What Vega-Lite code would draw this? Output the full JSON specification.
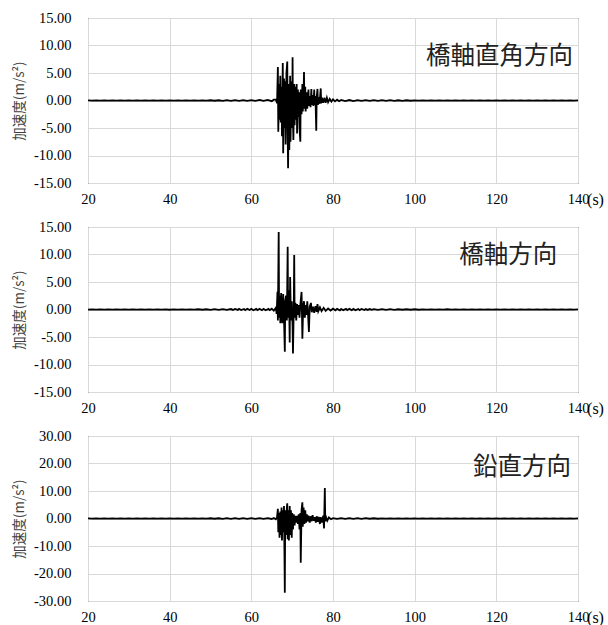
{
  "$schema": "https://vega.github.io/schema/vega-lite/v6.json",
  "background": "white",
  "padding": {"left": 12, "top": 9, "right": 0, "bottom": 0},
  "spacing": 44,
  "bounds": "flush",
  "config": {
    "locale": {"number": {"decimal": ".", "thousands": ",", "grouping": [3], "currency": ["$", ""], "minus": "-"}},
    "view": {"stroke": "black", "strokeWidth": 1}
  },
  "datasets": {
    "transverse": [
      {"t":20,"v":0.03},{"t":21,"v":-0.04},{"t":22,"v":0.04},{"t":23,"v":-0.03},{"t":24,"v":0.04},{"t":25,"v":-0.04},{"t":26,"v":0.03},{"t":27,"v":-0.03},{"t":28,"v":0.04},{"t":29,"v":-0.04},
      {"t":30,"v":0.03},{"t":31,"v":-0.04},{"t":32,"v":0.04},{"t":33,"v":-0.03},{"t":34,"v":0.04},{"t":35,"v":-0.03},{"t":36,"v":0.04},{"t":37,"v":-0.04},{"t":38,"v":0.03},{"t":39,"v":-0.04},
      {"t":40,"v":0.04},{"t":41,"v":-0.03},{"t":42,"v":0.03},{"t":43,"v":-0.04},{"t":44,"v":0.04},{"t":45,"v":-0.03},{"t":46,"v":0.04},{"t":47,"v":-0.04},{"t":48,"v":0.03},{"t":49,"v":-0.04},
      {"t":50,"v":0.04},{"t":51,"v":-0.04},{"t":52,"v":0.04},{"t":53,"v":-0.05},{"t":54,"v":0.05},{"t":55,"v":-0.06},{"t":56,"v":0.07},{"t":57,"v":-0.08},{"t":58,"v":0.06},{"t":59,"v":-0.08},
      {"t":60,"v":0.08},{"t":61,"v":-0.07},{"t":62,"v":0.1},{"t":63,"v":-0.08},{"t":64,"v":0.1},{"t":65,"v":-0.12},{"t":65.5,"v":0.15},
      {"t":66.0,"v":0.2},{"t":66.3,"v":-0.5},{"t":66.5,"v":6.1},{"t":66.6,"v":-5.7},{"t":66.8,"v":3.0},{"t":66.9,"v":-3.5},{"t":67.1,"v":4.5},{"t":67.2,"v":-4.0},{"t":67.4,"v":2.5},{"t":67.5,"v":-6.5},
      {"t":67.7,"v":6.8},{"t":67.8,"v":-9.6},{"t":68.0,"v":4.0},{"t":68.1,"v":-5.0},{"t":68.3,"v":3.5},{"t":68.4,"v":-8.0},{"t":68.6,"v":5.0},{"t":68.8,"v":7.1},{"t":68.9,"v":-6.0},{"t":69.0,"v":-12.3},
      {"t":69.2,"v":3.0},{"t":69.3,"v":-9.0},{"t":69.5,"v":4.5},{"t":69.6,"v":-7.5},{"t":69.8,"v":3.5},{"t":70.0,"v":-5.0},{"t":70.1,"v":7.85},{"t":70.2,"v":-4.0},{"t":70.3,"v":-7.2},{"t":70.5,"v":3.0},
      {"t":70.6,"v":-4.5},{"t":70.8,"v":2.5},{"t":70.9,"v":-3.5},{"t":71.1,"v":3.0},{"t":71.2,"v":-6.0},{"t":71.4,"v":2.0},{"t":71.5,"v":-3.0},{"t":71.7,"v":1.5},{"t":71.8,"v":-5.0},{"t":72.0,"v":-7.5},
      {"t":72.1,"v":2.0},{"t":72.3,"v":-2.5},{"t":72.5,"v":3.0},{"t":72.6,"v":-2.0},{"t":72.8,"v":1.5},{"t":72.9,"v":5.2},{"t":73.0,"v":-1.5},{"t":73.2,"v":2.5},{"t":73.3,"v":-2.0},{"t":73.5,"v":1.5},
      {"t":73.7,"v":-1.5},{"t":73.9,"v":1.0},{"t":74.0,"v":2.0},{"t":74.1,"v":-1.0},{"t":74.3,"v":0.8},{"t":74.5,"v":-1.2},{"t":74.7,"v":2.1},{"t":74.8,"v":-0.8},{"t":75.0,"v":1.0},{"t":75.2,"v":-1.0},
      {"t":75.4,"v":2.0},{"t":75.5,"v":-0.8},{"t":75.7,"v":0.8},{"t":75.9,"v":-5.5},{"t":76.0,"v":0.5},{"t":76.2,"v":2.1},{"t":76.3,"v":-0.8},{"t":76.5,"v":0.6},{"t":76.7,"v":-0.6},{"t":77.0,"v":2.2},
      {"t":77.1,"v":-0.5},{"t":77.3,"v":0.5},{"t":77.6,"v":-0.4},{"t":77.9,"v":0.5},{"t":78.2,"v":-0.4},{"t":78.5,"v":0.5},{"t":78.8,"v":-0.3},{"t":79.2,"v":0.3},{"t":79.6,"v":-0.2},{"t":80.0,"v":0.2},
      {"t":80.5,"v":-0.15},{"t":81.0,"v":0.15},{"t":81.5,"v":-0.12},{"t":82,"v":0.1},
      {"t":83,"v":-0.1},{"t":84,"v":0.09},{"t":85,"v":-0.1},{"t":86,"v":0.08},{"t":87,"v":-0.08},{"t":88,"v":0.07},{"t":89,"v":-0.08},{"t":90,"v":0.06},{"t":91,"v":-0.06},{"t":92,"v":0.06},
      {"t":93,"v":-0.05},{"t":94,"v":0.05},{"t":95,"v":-0.05},{"t":96,"v":0.04},{"t":97,"v":-0.05},{"t":98,"v":0.04},{"t":99,"v":-0.04},{"t":100,"v":0.04},{"t":101,"v":-0.03},{"t":102,"v":0.04},
      {"t":103,"v":-0.04},{"t":104,"v":0.03},{"t":105,"v":-0.03},{"t":106,"v":0.04},{"t":107,"v":-0.03},{"t":108,"v":0.04},{"t":109,"v":-0.04},{"t":110,"v":0.03},{"t":111,"v":-0.03},{"t":112,"v":0.04},
      {"t":113,"v":-0.03},{"t":114,"v":0.03},{"t":115,"v":-0.04},{"t":116,"v":0.03},{"t":117,"v":-0.03},{"t":118,"v":0.04},{"t":119,"v":-0.03},{"t":120,"v":0.03},{"t":121,"v":-0.04},{"t":122,"v":0.03},
      {"t":123,"v":-0.03},{"t":124,"v":0.04},{"t":125,"v":-0.03},{"t":126,"v":0.03},{"t":127,"v":-0.04},{"t":128,"v":0.03},{"t":129,"v":-0.03},{"t":130,"v":0.04},{"t":131,"v":-0.03},{"t":132,"v":0.03},
      {"t":133,"v":-0.04},{"t":134,"v":0.03},{"t":135,"v":-0.03},{"t":136,"v":0.04},{"t":137,"v":-0.03},{"t":138,"v":0.03},{"t":139,"v":-0.03},{"t":140,"v":0.02}
    ],
    "longitudinal": [
      {"t":20,"v":-0.03},{"t":21,"v":0.04},{"t":22,"v":-0.04},{"t":23,"v":0.03},{"t":24,"v":-0.04},{"t":25,"v":0.04},{"t":26,"v":-0.03},{"t":27,"v":0.04},{"t":28,"v":-0.04},{"t":29,"v":0.03},
      {"t":30,"v":-0.04},{"t":31,"v":0.04},{"t":32,"v":-0.03},{"t":33,"v":0.04},{"t":34,"v":-0.04},{"t":35,"v":0.03},{"t":36,"v":-0.04},{"t":37,"v":0.04},{"t":38,"v":-0.03},{"t":39,"v":0.04},
      {"t":40,"v":-0.04},{"t":41,"v":0.04},{"t":42,"v":-0.03},{"t":43,"v":0.04},{"t":44,"v":-0.04},{"t":45,"v":0.03},{"t":46,"v":-0.04},{"t":47,"v":0.04},{"t":48,"v":-0.04},{"t":49,"v":0.04},
      {"t":50,"v":-0.05},{"t":51,"v":0.05},{"t":52,"v":-0.05},{"t":53,"v":0.06},{"t":54,"v":-0.07},{"t":55,"v":0.08},{"t":55.5,"v":-0.08},{"t":56,"v":0.1},{"t":56.7,"v":-0.08},{"t":57,"v":0.12},
      {"t":57.5,"v":-0.1},{"t":58.2,"v":0.1},{"t":58.5,"v":-0.12},{"t":59,"v":0.14},{"t":59.6,"v":-0.1},{"t":60,"v":0.12},{"t":60.5,"v":-0.14},{"t":61.2,"v":0.12},{"t":61.5,"v":-0.12},{"t":62,"v":0.14},
      {"t":62.6,"v":-0.12},{"t":63,"v":0.12},{"t":63.5,"v":-0.14},{"t":64.2,"v":0.12},{"t":64.5,"v":-0.12},{"t":65,"v":0.15},{"t":65.5,"v":-0.2},
      {"t":66.0,"v":0.3},{"t":66.2,"v":-0.8},{"t":66.4,"v":3.2},{"t":66.5,"v":-2.0},{"t":66.7,"v":14.1},{"t":66.8,"v":-1.5},{"t":67.0,"v":2.5},{"t":67.1,"v":-2.5},{"t":67.3,"v":3.0},{"t":67.4,"v":-1.0},
      {"t":67.6,"v":-2.5},{"t":67.8,"v":2.8},{"t":68.0,"v":-1.5},{"t":68.2,"v":-7.7},{"t":68.3,"v":1.5},{"t":68.5,"v":2.5},{"t":68.7,"v":-2.0},{"t":68.9,"v":11.4},{"t":69.0,"v":-1.5},{"t":69.2,"v":3.5},
      {"t":69.4,"v":-6.0},{"t":69.5,"v":5.9},{"t":69.7,"v":-2.0},{"t":69.9,"v":1.5},{"t":70.1,"v":-3.0},{"t":70.2,"v":-8.0},{"t":70.4,"v":1.0},{"t":70.5,"v":9.9},{"t":70.6,"v":-1.5},{"t":70.8,"v":1.2},
      {"t":71.0,"v":-2.0},{"t":71.2,"v":1.0},{"t":71.4,"v":-1.0},{"t":71.6,"v":0.8},{"t":71.8,"v":-1.5},{"t":72.0,"v":0.8},{"t":72.3,"v":3.2},{"t":72.4,"v":-0.8},{"t":72.5,"v":-5.3},{"t":72.7,"v":0.6},
      {"t":72.9,"v":1.5},{"t":73.1,"v":-1.5},{"t":73.3,"v":0.8},{"t":73.5,"v":-1.0},{"t":73.7,"v":1.5},{"t":73.9,"v":-1.0},{"t":74.1,"v":-4.1},{"t":74.3,"v":0.5},{"t":74.6,"v":1.2},{"t":74.8,"v":-0.5},
      {"t":75.1,"v":0.5},{"t":75.4,"v":-0.6},{"t":75.7,"v":0.6},{"t":76.0,"v":-0.4},{"t":76.2,"v":1.0},{"t":76.4,"v":-0.3},{"t":76.8,"v":0.4},{"t":77.2,"v":-0.3},{"t":77.7,"v":0.3},{"t":78.2,"v":-0.25},
      {"t":78.8,"v":0.2},{"t":79.4,"v":-0.18},{"t":80,"v":0.15},{"t":80.6,"v":-0.14},{"t":81,"v":0.12},{"t":81.7,"v":-0.14},{"t":82,"v":0.1},{"t":82.5,"v":-0.12},{"t":83.2,"v":0.12},{"t":83.5,"v":-0.1},
      {"t":84,"v":0.12},{"t":84.6,"v":-0.12},{"t":85,"v":0.1},{"t":85.5,"v":-0.12},{"t":86.2,"v":0.1},{"t":86.5,"v":-0.1},{"t":87,"v":0.1},{"t":87.7,"v":-0.1},{"t":88,"v":0.08},{"t":88.5,"v":-0.08},
      {"t":89,"v":0.08},{"t":89.5,"v":-0.07},{"t":90,"v":0.07},{"t":91,"v":-0.06},{"t":92,"v":0.06},{"t":93,"v":-0.05},{"t":94,"v":0.05},{"t":95,"v":-0.05},{"t":96,"v":0.04},{"t":97,"v":-0.04},
      {"t":98,"v":0.04},{"t":99,"v":-0.04},{"t":100,"v":0.04},{"t":101,"v":-0.04},{"t":102,"v":0.04},{"t":103,"v":-0.03},{"t":104,"v":0.04},{"t":105,"v":-0.04},{"t":106,"v":0.03},{"t":107,"v":-0.04},
      {"t":108,"v":0.04},{"t":109,"v":-0.04},{"t":110,"v":0.03},{"t":111,"v":-0.04},{"t":112,"v":0.04},{"t":113,"v":-0.03},{"t":114,"v":0.04},{"t":115,"v":-0.04},{"t":116,"v":0.03},{"t":117,"v":-0.04},
      {"t":118,"v":0.04},{"t":119,"v":-0.03},{"t":120,"v":0.04},{"t":121,"v":-0.04},{"t":122,"v":0.03},{"t":123,"v":-0.04},{"t":124,"v":0.04},{"t":125,"v":-0.03},{"t":126,"v":0.04},{"t":127,"v":-0.04},
      {"t":128,"v":0.03},{"t":129,"v":-0.04},{"t":130,"v":0.04},{"t":131,"v":-0.03},{"t":132,"v":0.04},{"t":133,"v":-0.04},{"t":134,"v":0.03},{"t":135,"v":-0.04},{"t":136,"v":0.04},{"t":137,"v":-0.03},
      {"t":138,"v":0.04},{"t":139,"v":-0.03},{"t":140,"v":0.02}
    ],
    "vertical": [
      {"t":20,"v":0.06},{"t":21,"v":-0.08},{"t":22,"v":0.08},{"t":23,"v":-0.06},{"t":24,"v":0.08},{"t":25,"v":-0.08},{"t":26,"v":0.06},{"t":27,"v":-0.06},{"t":28,"v":0.08},{"t":29,"v":-0.08},
      {"t":30,"v":0.06},{"t":31,"v":-0.08},{"t":32,"v":0.08},{"t":33,"v":-0.06},{"t":34,"v":0.08},{"t":35,"v":-0.06},{"t":36,"v":0.08},{"t":37,"v":-0.08},{"t":38,"v":0.06},{"t":39,"v":-0.08},
      {"t":40,"v":0.08},{"t":41,"v":-0.06},{"t":42,"v":0.06},{"t":43,"v":-0.08},{"t":44,"v":0.08},{"t":45,"v":-0.06},{"t":46,"v":0.08},{"t":47,"v":-0.08},{"t":48,"v":0.06},{"t":49,"v":-0.08},
      {"t":50,"v":0.08},{"t":51,"v":-0.08},{"t":52,"v":0.08},{"t":53,"v":-0.1},{"t":54,"v":0.1},{"t":55,"v":-0.12},{"t":56,"v":0.12},{"t":57,"v":-0.14},{"t":58,"v":0.12},{"t":59,"v":-0.14},
      {"t":60,"v":0.14},{"t":61,"v":-0.12},{"t":62,"v":0.16},{"t":63,"v":-0.14},{"t":64,"v":0.16},{"t":65,"v":-0.18},{"t":65.5,"v":0.2},{"t":66.0,"v":-0.3},
      {"t":66.3,"v":0.5},{"t":66.5,"v":3.5},{"t":66.6,"v":-5.0},{"t":66.8,"v":2.0},{"t":66.9,"v":-7.0},{"t":67.1,"v":2.5},{"t":67.2,"v":-6.0},{"t":67.4,"v":4.0},{"t":67.5,"v":-8.0},{"t":67.7,"v":3.0},
      {"t":67.8,"v":-5.0},{"t":68.0,"v":4.5},{"t":68.2,"v":-27.0},{"t":68.3,"v":3.0},{"t":68.5,"v":-6.0},{"t":68.7,"v":4.0},{"t":68.8,"v":5.5},{"t":68.9,"v":-7.5},{"t":69.1,"v":3.0},{"t":69.2,"v":-8.0},
      {"t":69.4,"v":4.5},{"t":69.5,"v":-6.0},{"t":69.7,"v":3.0},{"t":69.9,"v":-7.0},{"t":70.0,"v":2.0},{"t":70.2,"v":-4.0},{"t":70.4,"v":1.5},{"t":70.6,"v":-2.5},{"t":70.8,"v":1.0},{"t":71.0,"v":-1.5},
      {"t":71.2,"v":1.0},{"t":71.4,"v":-2.0},{"t":71.6,"v":1.5},{"t":71.8,"v":-4.0},{"t":72.0,"v":2.0},{"t":72.1,"v":-16.1},{"t":72.3,"v":3.0},{"t":72.5,"v":5.9},{"t":72.6,"v":-3.0},{"t":72.8,"v":4.0},
      {"t":73.0,"v":-2.0},{"t":73.2,"v":3.0},{"t":73.4,"v":-1.5},{"t":73.6,"v":1.5},{"t":73.8,"v":-1.0},{"t":74.0,"v":1.0},{"t":74.3,"v":-1.5},{"t":74.5,"v":0.8},{"t":74.8,"v":-1.0},{"t":75.0,"v":1.2},
      {"t":75.3,"v":-0.8},{"t":75.5,"v":0.5},{"t":75.8,"v":-1.5},{"t":76.0,"v":0.8},{"t":76.3,"v":-1.2},{"t":76.5,"v":0.6},{"t":76.8,"v":-2.0},{"t":77.0,"v":0.5},{"t":77.3,"v":-1.5},{"t":77.6,"v":1.0},
      {"t":77.8,"v":-3.6},{"t":78.0,"v":11.1},{"t":78.1,"v":-1.0},{"t":78.3,"v":0.5},{"t":78.6,"v":-0.8},{"t":79.0,"v":0.4},{"t":79.5,"v":-0.25},{"t":80,"v":0.15},
      {"t":81,"v":-0.15},{"t":82,"v":0.12},{"t":83,"v":-0.12},{"t":84,"v":0.12},{"t":85,"v":-0.1},{"t":86,"v":0.1},{"t":87,"v":-0.1},{"t":88,"v":0.1},{"t":89,"v":-0.08},{"t":90,"v":0.08},
      {"t":91,"v":-0.08},{"t":92,"v":0.08},{"t":93,"v":-0.06},{"t":94,"v":0.06},{"t":95,"v":-0.08},{"t":96,"v":0.06},{"t":97,"v":-0.06},{"t":98,"v":0.08},{"t":99,"v":-0.06},{"t":100,"v":0.06},
      {"t":101,"v":-0.06},{"t":102,"v":0.08},{"t":103,"v":-0.06},{"t":104,"v":0.06},{"t":105,"v":-0.08},{"t":106,"v":0.06},{"t":107,"v":-0.06},{"t":108,"v":0.08},{"t":109,"v":-0.06},{"t":110,"v":0.06},
      {"t":111,"v":-0.08},{"t":112,"v":0.06},{"t":113,"v":-0.06},{"t":114,"v":0.08},{"t":115,"v":-0.06},{"t":116,"v":0.06},{"t":117,"v":-0.08},{"t":118,"v":0.06},{"t":119,"v":-0.06},{"t":120,"v":0.08},
      {"t":121,"v":-0.06},{"t":122,"v":0.06},{"t":123,"v":-0.08},{"t":124,"v":0.06},{"t":125,"v":-0.06},{"t":126,"v":0.08},{"t":127,"v":-0.06},{"t":128,"v":0.06},{"t":129,"v":-0.08},{"t":130,"v":0.06},
      {"t":131,"v":-0.06},{"t":132,"v":0.08},{"t":133,"v":-0.06},{"t":134,"v":0.06},{"t":135,"v":-0.08},{"t":136,"v":0.06},{"t":137,"v":-0.06},{"t":138,"v":0.08},{"t":139,"v":-0.06},{"t":140,"v":0.05}
    ]
  },
  "vconcat": [
    {
      "width": 490, "height": 165,
      "data": {"name": "transverse"},
      "layer": [
        {
          "mark": {"type": "line", "color": "black", "strokeWidth": 1.8},
          "encoding": {
            "x": {"field": "t", "type": "quantitative", "scale": {"domain": [20, 140], "nice": false},
              "axis": {"values": [20, 40, 60, 80, 100, 120, 140], "labelOverlap": false, "labelPadding": 9, "labelFlush": false,
                "labelFont": "Liberation Serif", "labelFontSize": 14.5, "labelColor": "#000000", "ticks": false, "domain": false,
                "grid": true, "gridColor": "#d9d9d9", "gridWidth": 1,
                "title": "(s)", "titleFont": "Liberation Serif", "titleFontSize": 16, "titleFontWeight": "normal", "titleColor": "#000000",
                "titleX": 507, "titleY": 16, "titleAlign": "center", "titleBaseline": "middle"}},
            "y": {"field": "v", "type": "quantitative", "scale": {"domain": [-15, 15], "nice": false},
              "axis": {"values": [-15, -10, -5, 0, 5, 10, 15], "format": ".2f", "labelOverlap": false, "labelPadding": 17, "labelFlush": false,
                "labelFont": "Liberation Serif", "labelFontSize": 14.5, "labelColor": "#000000", "ticks": false, "domain": false,
                "grid": true, "gridColor": "#d9d9d9", "gridWidth": 1,
                "title": "加速度(m/s²)", "titleFont": "Noto Sans CJK JP", "titleFontSize": 13.5, "titleFontWeight": "normal", "titleColor": "#404040", "titlePadding": 7}}
          }
        },
        {
          "data": {"values": [{}]},
          "mark": {"type": "text", "align": "right", "baseline": "middle", "font": "Noto Sans CJK JP", "fontSize": 24.5, "color": "#222222"},
          "encoding": {
            "x": {"datum": 138.8, "type": "quantitative",
              "axis": {"values": [20, 40, 60, 80, 100, 120, 140], "labelOverlap": false, "labelPadding": 9, "labelFlush": false,
                "labelFont": "Liberation Serif", "labelFontSize": 14.5, "labelColor": "#000000", "ticks": false, "domain": false,
                "grid": true, "gridColor": "#d9d9d9", "gridWidth": 1,
                "title": "(s)", "titleFont": "Liberation Serif", "titleFontSize": 16, "titleFontWeight": "normal", "titleColor": "#000000",
                "titleX": 507, "titleY": 16, "titleAlign": "center", "titleBaseline": "middle"}},
            "y": {"datum": 7.9, "type": "quantitative",
              "axis": {"values": [-15, -10, -5, 0, 5, 10, 15], "format": ".2f", "labelOverlap": false, "labelPadding": 17, "labelFlush": false,
                "labelFont": "Liberation Serif", "labelFontSize": 14.5, "labelColor": "#000000", "ticks": false, "domain": false,
                "grid": true, "gridColor": "#d9d9d9", "gridWidth": 1,
                "title": "加速度(m/s²)", "titleFont": "Noto Sans CJK JP", "titleFontSize": 13.5, "titleFontWeight": "normal", "titleColor": "#404040", "titlePadding": 7}},
            "text": {"value": "橋軸直角方向"}
          }
        }
      ]
    },
    {
      "width": 490, "height": 165,
      "data": {"name": "longitudinal"},
      "layer": [
        {
          "mark": {"type": "line", "color": "black", "strokeWidth": 1.8},
          "encoding": {
            "x": {"field": "t", "type": "quantitative", "scale": {"domain": [20, 140], "nice": false},
              "axis": {"values": [20, 40, 60, 80, 100, 120, 140], "labelOverlap": false, "labelPadding": 9, "labelFlush": false,
                "labelFont": "Liberation Serif", "labelFontSize": 14.5, "labelColor": "#000000", "ticks": false, "domain": false,
                "grid": true, "gridColor": "#d9d9d9", "gridWidth": 1,
                "title": "(s)", "titleFont": "Liberation Serif", "titleFontSize": 16, "titleFontWeight": "normal", "titleColor": "#000000",
                "titleX": 507, "titleY": 16, "titleAlign": "center", "titleBaseline": "middle"}},
            "y": {"field": "v", "type": "quantitative", "scale": {"domain": [-15, 15], "nice": false},
              "axis": {"values": [-15, -10, -5, 0, 5, 10, 15], "format": ".2f", "labelOverlap": false, "labelPadding": 17, "labelFlush": false,
                "labelFont": "Liberation Serif", "labelFontSize": 14.5, "labelColor": "#000000", "ticks": false, "domain": false,
                "grid": true, "gridColor": "#d9d9d9", "gridWidth": 1,
                "title": "加速度(m/s²)", "titleFont": "Noto Sans CJK JP", "titleFontSize": 13.5, "titleFontWeight": "normal", "titleColor": "#404040", "titlePadding": 7}}
          }
        },
        {
          "data": {"values": [{}]},
          "mark": {"type": "text", "align": "right", "baseline": "middle", "font": "Noto Sans CJK JP", "fontSize": 24.5, "color": "#222222"},
          "encoding": {
            "x": {"datum": 134.9, "type": "quantitative",
              "axis": {"values": [20, 40, 60, 80, 100, 120, 140], "labelOverlap": false, "labelPadding": 9, "labelFlush": false,
                "labelFont": "Liberation Serif", "labelFontSize": 14.5, "labelColor": "#000000", "ticks": false, "domain": false,
                "grid": true, "gridColor": "#d9d9d9", "gridWidth": 1,
                "title": "(s)", "titleFont": "Liberation Serif", "titleFontSize": 16, "titleFontWeight": "normal", "titleColor": "#000000",
                "titleX": 507, "titleY": 16, "titleAlign": "center", "titleBaseline": "middle"}},
            "y": {"datum": 9.7, "type": "quantitative",
              "axis": {"values": [-15, -10, -5, 0, 5, 10, 15], "format": ".2f", "labelOverlap": false, "labelPadding": 17, "labelFlush": false,
                "labelFont": "Liberation Serif", "labelFontSize": 14.5, "labelColor": "#000000", "ticks": false, "domain": false,
                "grid": true, "gridColor": "#d9d9d9", "gridWidth": 1,
                "title": "加速度(m/s²)", "titleFont": "Noto Sans CJK JP", "titleFontSize": 13.5, "titleFontWeight": "normal", "titleColor": "#404040", "titlePadding": 7}},
            "text": {"value": "橋軸方向"}
          }
        }
      ]
    },
    {
      "width": 490, "height": 165,
      "data": {"name": "vertical"},
      "layer": [
        {
          "mark": {"type": "line", "color": "black", "strokeWidth": 1.8},
          "encoding": {
            "x": {"field": "t", "type": "quantitative", "scale": {"domain": [20, 140], "nice": false},
              "axis": {"values": [20, 40, 60, 80, 100, 120, 140], "labelOverlap": false, "labelPadding": 9, "labelFlush": false,
                "labelFont": "Liberation Serif", "labelFontSize": 14.5, "labelColor": "#000000", "ticks": false, "domain": false,
                "grid": true, "gridColor": "#d9d9d9", "gridWidth": 1,
                "title": "(s)", "titleFont": "Liberation Serif", "titleFontSize": 16, "titleFontWeight": "normal", "titleColor": "#000000",
                "titleX": 507, "titleY": 16, "titleAlign": "center", "titleBaseline": "middle"}},
            "y": {"field": "v", "type": "quantitative", "scale": {"domain": [-30, 30], "nice": false},
              "axis": {"values": [-30, -20, -10, 0, 10, 20, 30], "format": ".2f", "labelOverlap": false, "labelPadding": 17, "labelFlush": false,
                "labelFont": "Liberation Serif", "labelFontSize": 14.5, "labelColor": "#000000", "ticks": false, "domain": false,
                "grid": true, "gridColor": "#d9d9d9", "gridWidth": 1,
                "title": "加速度(m/s²)", "titleFont": "Noto Sans CJK JP", "titleFontSize": 13.5, "titleFontWeight": "normal", "titleColor": "#404040", "titlePadding": 7}}
          }
        },
        {
          "data": {"values": [{}]},
          "mark": {"type": "text", "align": "right", "baseline": "middle", "font": "Noto Sans CJK JP", "fontSize": 24.5, "color": "#222222"},
          "encoding": {
            "x": {"datum": 138.3, "type": "quantitative",
              "axis": {"values": [20, 40, 60, 80, 100, 120, 140], "labelOverlap": false, "labelPadding": 9, "labelFlush": false,
                "labelFont": "Liberation Serif", "labelFontSize": 14.5, "labelColor": "#000000", "ticks": false, "domain": false,
                "grid": true, "gridColor": "#d9d9d9", "gridWidth": 1,
                "title": "(s)", "titleFont": "Liberation Serif", "titleFontSize": 16, "titleFontWeight": "normal", "titleColor": "#000000",
                "titleX": 507, "titleY": 16, "titleAlign": "center", "titleBaseline": "middle"}},
            "y": {"datum": 18.3, "type": "quantitative",
              "axis": {"values": [-30, -20, -10, 0, 10, 20, 30], "format": ".2f", "labelOverlap": false, "labelPadding": 17, "labelFlush": false,
                "labelFont": "Liberation Serif", "labelFontSize": 14.5, "labelColor": "#000000", "ticks": false, "domain": false,
                "grid": true, "gridColor": "#d9d9d9", "gridWidth": 1,
                "title": "加速度(m/s²)", "titleFont": "Noto Sans CJK JP", "titleFontSize": 13.5, "titleFontWeight": "normal", "titleColor": "#404040", "titlePadding": 7}},
            "text": {"value": "鉛直方向"}
          }
        }
      ]
    }
  ]
}
